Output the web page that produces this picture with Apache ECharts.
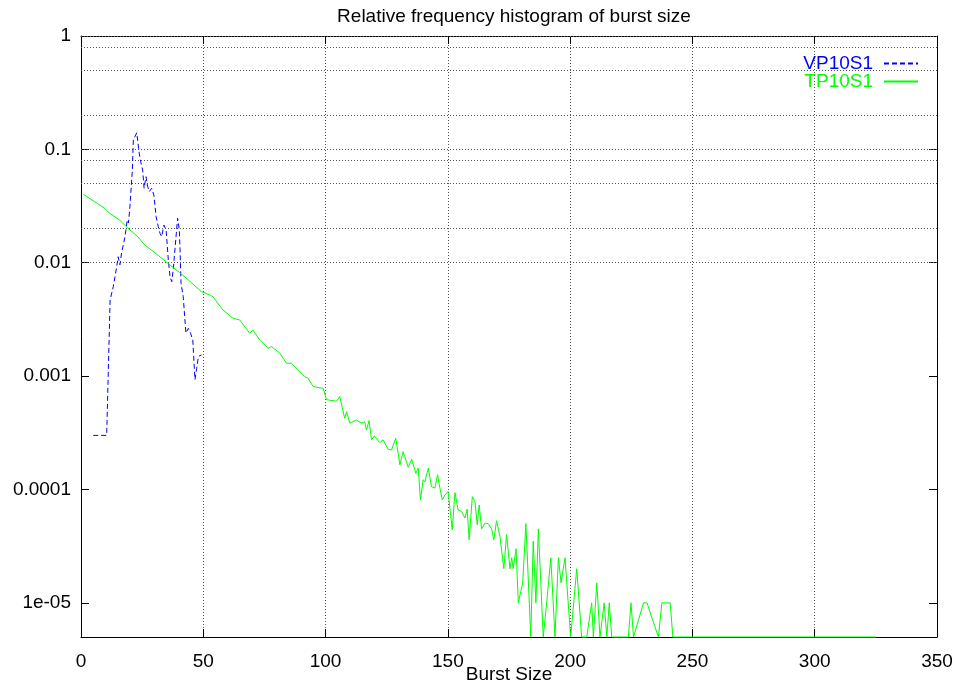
<!DOCTYPE html>
<html>
<head>
<meta charset="utf-8">
<script src="https://cdn.jsdelivr.net/npm/echarts@6/dist/echarts.min.js"></script>
<style>html,body{margin:0;padding:0;background:#fff}#c{width:956px;height:685px}</style>
</head>
<body>
<div id="c"></div>
<script>
// ---- data ----
const titleText = 'Relative frequency histogram of burst size';
const xName = 'Burst Size';
const seriesNames = ['VP10S1', 'TP10S1'];

const blueX = [5, 10.5, 11.9, 13.2, 14.6, 15.2, 15.9, 16.6, 18.0, 18.9, 19.4, 20.0, 21.0, 21.4, 22.8, 23.8, 24.4, 25.2, 25.8, 26.6, 27.1, 27.9, 28.9, 29.8, 30.7, 31.6, 32.3, 33.0, 33.9, 34.8, 35.7, 36.4, 37.1, 37.7, 39.5, 40.2, 40.5, 40.9, 41.8, 42.9, 43.9, 44.8, 45.7, 46.6, 47.3, 48.0, 49.3];
const blueY = [3.0e-4, 3.0e-4, 0.0047, 0.00615, 0.00924, 0.0113, 0.0096, 0.0122, 0.0170, 0.0238, 0.0224, 0.0312, 0.0658, 0.121, 0.140, 0.0924, 0.078, 0.0658, 0.0454, 0.0574, 0.0485, 0.0424, 0.0454, 0.0396, 0.0255, 0.0208, 0.0182, 0.0170, 0.0215, 0.0195, 0.0106, 0.00754, 0.00681, 0.00865, 0.0247, 0.0195, 0.0130, 0.0066, 0.00502, 0.00239, 0.00264, 0.00239, 0.00208, 0.00093, 0.00117, 0.00149, 0.00154];

const greenX = [1, 5.5, 9.6, 11.7, 15.8, 18.5, 23.2, 26.0, 31.4, 35.5, 40.3, 44.4, 49.2, 52.6, 53.9, 58.0, 62.1, 64.9, 69.0, 70.3, 73.1, 76.5, 77.9, 81.3, 84.0, 86.0, 89.4, 91.5, 92.8, 94.9, 99.0, 100.4, 104.5, 105.8, 107.8, 108.6, 109.9, 112.6, 114.7, 116.0, 116.7, 117.8, 118.8, 119.9, 122.2, 123.5, 125.6, 127.0, 128.7, 130.4, 131.7, 133.8, 135.2, 136.9, 137.9, 138.8, 139.9, 140.6, 142.0, 143.3, 144.7, 145.8, 146.5, 147.7, 148.8, 150.1, 151.8, 152.9, 154.2, 155.6, 157.0, 157.9, 158.7, 160.0, 161.1, 162.0, 162.8, 163.8, 165.2, 166.5, 167.9, 168.8, 169.9, 171.3, 172.9, 174.0, 175.4, 176.1, 176.7, 177.9, 178.8, 180.6, 181.9, 183.9, 184.9, 186.0, 187.0, 189.0, 190.4, 192.1, 193.8, 195.2, 196.3, 197.0, 197.9, 200.2, 202.7, 204.7, 206.8, 208.8, 209.5, 210.9, 212.2, 213.9, 215.0, 216.0, 217.0, 223.8, 224.9, 225.9, 230.0, 231.4, 236.1, 237.5, 240.9, 242.0, 325];
const greenY = [0.0402, 0.0346, 0.0303, 0.0273, 0.0238, 0.0208, 0.0170, 0.0144, 0.0117, 0.0099, 0.0082, 0.0069, 0.00556, 0.0052, 0.00502, 0.00384, 0.00324, 0.00313, 0.00239, 0.00255, 0.00208, 0.00176, 0.00182, 0.00159, 0.0013, 0.0013, 0.0011, 0.00099, 0.00096, 0.00081, 0.00078, 0.00062, 0.00060, 0.00066, 0.000425, 0.000486, 0.000385, 0.00041, 0.000385, 0.000397, 0.000336, 0.000405, 0.000274, 0.000297, 0.000259, 0.000274, 0.000226, 0.000223, 0.000283, 0.000165, 0.000216, 0.000157, 0.000185, 0.000139, 0.000154, 8.1e-5, 0.000122, 0.000117, 0.000154, 0.000106, 0.000103, 0.000135, 0.00011, 8.1e-5, 8.95e-5, 9.6e-5, 4.4e-5, 9.4e-5, 6.6e-5, 6.4e-5, 5.6e-5, 6.7e-5, 3.6e-5, 8.65e-5, 7.8e-5, 4.9e-5, 7.3e-5, 4.5e-5, 5.05e-5, 5e-5, 4.5e-5, 3.6e-5, 5.3e-5, 3.85e-5, 2e-5, 4e-5, 2e-5, 2.5e-5, 2e-5, 3e-5, 1e-5, 1.5e-5, 5e-5, 5e-6, 3.5e-5, 1e-5, 4.5e-5, 5e-6, 1e-5, 2.5e-5, 5e-6, 2.5e-5, 1.5e-5, 1.5e-5, 2.5e-5, 5e-6, 2e-5, 5e-6, 5e-6, 1e-5, 5e-6, 1.5e-5, 5e-6, 1e-5, 5e-6, 1e-5, 5e-6, 5e-6, 1e-5, 5e-6, 1e-5, 1e-5, 5e-6, 1e-5, 1e-5, 5e-6, 5e-6];

const xTickValues = [0, 50, 100, 150, 200, 250, 300, 350];
const yTickValues = [1e-5, 1e-4, 1e-3, 1e-2, 0.1, 1];
const yTickLabels = ['1e-05', '0.0001', '0.001', '0.01', '0.1', '1'];
const yGridValues = [8e-6, 1e-5, 2e-5, 5e-5, 8e-5, 1e-4, 2e-4, 5e-4, 8e-4, 1e-3, 2e-3, 5e-3, 8e-3, 1e-2, 2e-2, 5e-2, 8e-2, 0.1, 0.2, 0.5, 0.8, 1];

// ---- chart ----
const FONT = "'Liberation Sans', Arial, Helvetica, sans-serif";
const FS = 19;
const zip = (xs, ys) => xs.map((x, i) => [x, ys[i]]);
const yLabel = v => {
  const lv = Math.log10(v);
  for (let i = 0; i < yTickValues.length; i++) {
    if (Math.abs(lv - Math.log10(yTickValues[i])) < 1e-6) return yTickLabels[i];
  }
  return '';
};
const dotted = { type: [1, 2], color: '#555', width: 1 };

const chart = echarts.init(document.getElementById('c'), null, { renderer: 'canvas' });
chart.setOption({
  animation: false,
  backgroundColor: '#fff',
  textStyle: { fontFamily: FONT },
  title: {
    text: titleText, left: 509, top: 2, textAlign: 'center',
    textStyle: { fontSize: FS, fontWeight: 'normal', color: '#000', fontFamily: FONT }
  },
  legend: {
    orient: 'vertical', right: 32, top: 49, align: 'right',
    itemWidth: 34, itemHeight: 10, itemGap: -1, selectedMode: false,
    itemStyle: { opacity: 0, borderWidth: 0 },
    textStyle: { fontSize: FS, fontFamily: FONT, padding: [0, 6, 0, 0] },
    data: [
      { name: seriesNames[0], textStyle: { color: '#0000ff' } },
      { name: seriesNames[1], textStyle: { color: '#00ff00' } }
    ]
  },
  grid: { left: 81, right: 19, top: 36, bottom: 48, containLabel: false, outerBoundsMode: 'none', show: false },
  xAxis: [{
    type: 'value', min: 0, max: 350, interval: 50, position: 'bottom',
    name: xName, nameLocation: 'middle', nameGap: 28, nameMoveOverlap: false,
    nameTextStyle: { fontSize: FS, color: '#000', fontFamily: FONT },
    axisLine: { show: true, lineStyle: { color: '#000', width: 1 } },
    axisTick: { show: true, inside: true, length: 8, lineStyle: { color: '#000' } },
    axisLabel: { fontSize: FS, color: '#000', margin: 15, fontFamily: FONT },
    splitLine: { show: true, lineStyle: dotted }
  }, {
    type: 'value', min: 0, max: 350, interval: 50, position: 'top',
    axisLine: { show: true, onZero: false, lineStyle: { color: '#000', width: 1 } },
    axisTick: { show: true, inside: true, length: 8, lineStyle: { color: '#000' } },
    axisLabel: { show: false }, splitLine: { show: false }
  }],
  yAxis: [{
    type: 'log', logBase: 10, min: 5e-6, max: 1, position: 'left',
    axisLine: { show: true, onZero: false, lineStyle: { color: '#000', width: 1 } },
    axisTick: { show: true, inside: true, length: 8, lineStyle: { color: '#000' } },
    axisLabel: { fontSize: FS, color: '#000', margin: 10, formatter: yLabel, fontFamily: FONT },
    splitLine: { show: false }
  }, {
    type: 'log', logBase: 10, min: 5e-6, max: 1, position: 'right',
    axisLine: { show: true, onZero: false, lineStyle: { color: '#000', width: 1 } },
    axisTick: { show: true, inside: true, length: 8, lineStyle: { color: '#000' } },
    axisLabel: { show: false }, splitLine: { show: false }
  }],
  series: [{
    name: seriesNames[0], type: 'line', xAxisIndex: 0, yAxisIndex: 0,
    data: zip(blueX, blueY), symbol: 'none', showSymbol: false, clip: false, z: 3,
    lineStyle: { color: '#0000ff', width: 1, type: [5, 3] },
    itemStyle: { color: '#0000ff' }
  }, {
    name: seriesNames[1], type: 'line', xAxisIndex: 0, yAxisIndex: 0,
    data: zip(greenX, greenY), symbol: 'none', showSymbol: false, clip: false, z: 4,
    lineStyle: { color: '#00ff00', width: 1 },
    itemStyle: { color: '#00ff00' },
    markLine: {
      silent: true, symbol: ['none', 'none'], z: 1, animation: false,
      label: { show: false },
      lineStyle: dotted,
      emphasis: { disabled: true },
      data: yGridValues.map(v => ({ yAxis: v }))
    }
  }]
});
</script>
</body>
</html>
